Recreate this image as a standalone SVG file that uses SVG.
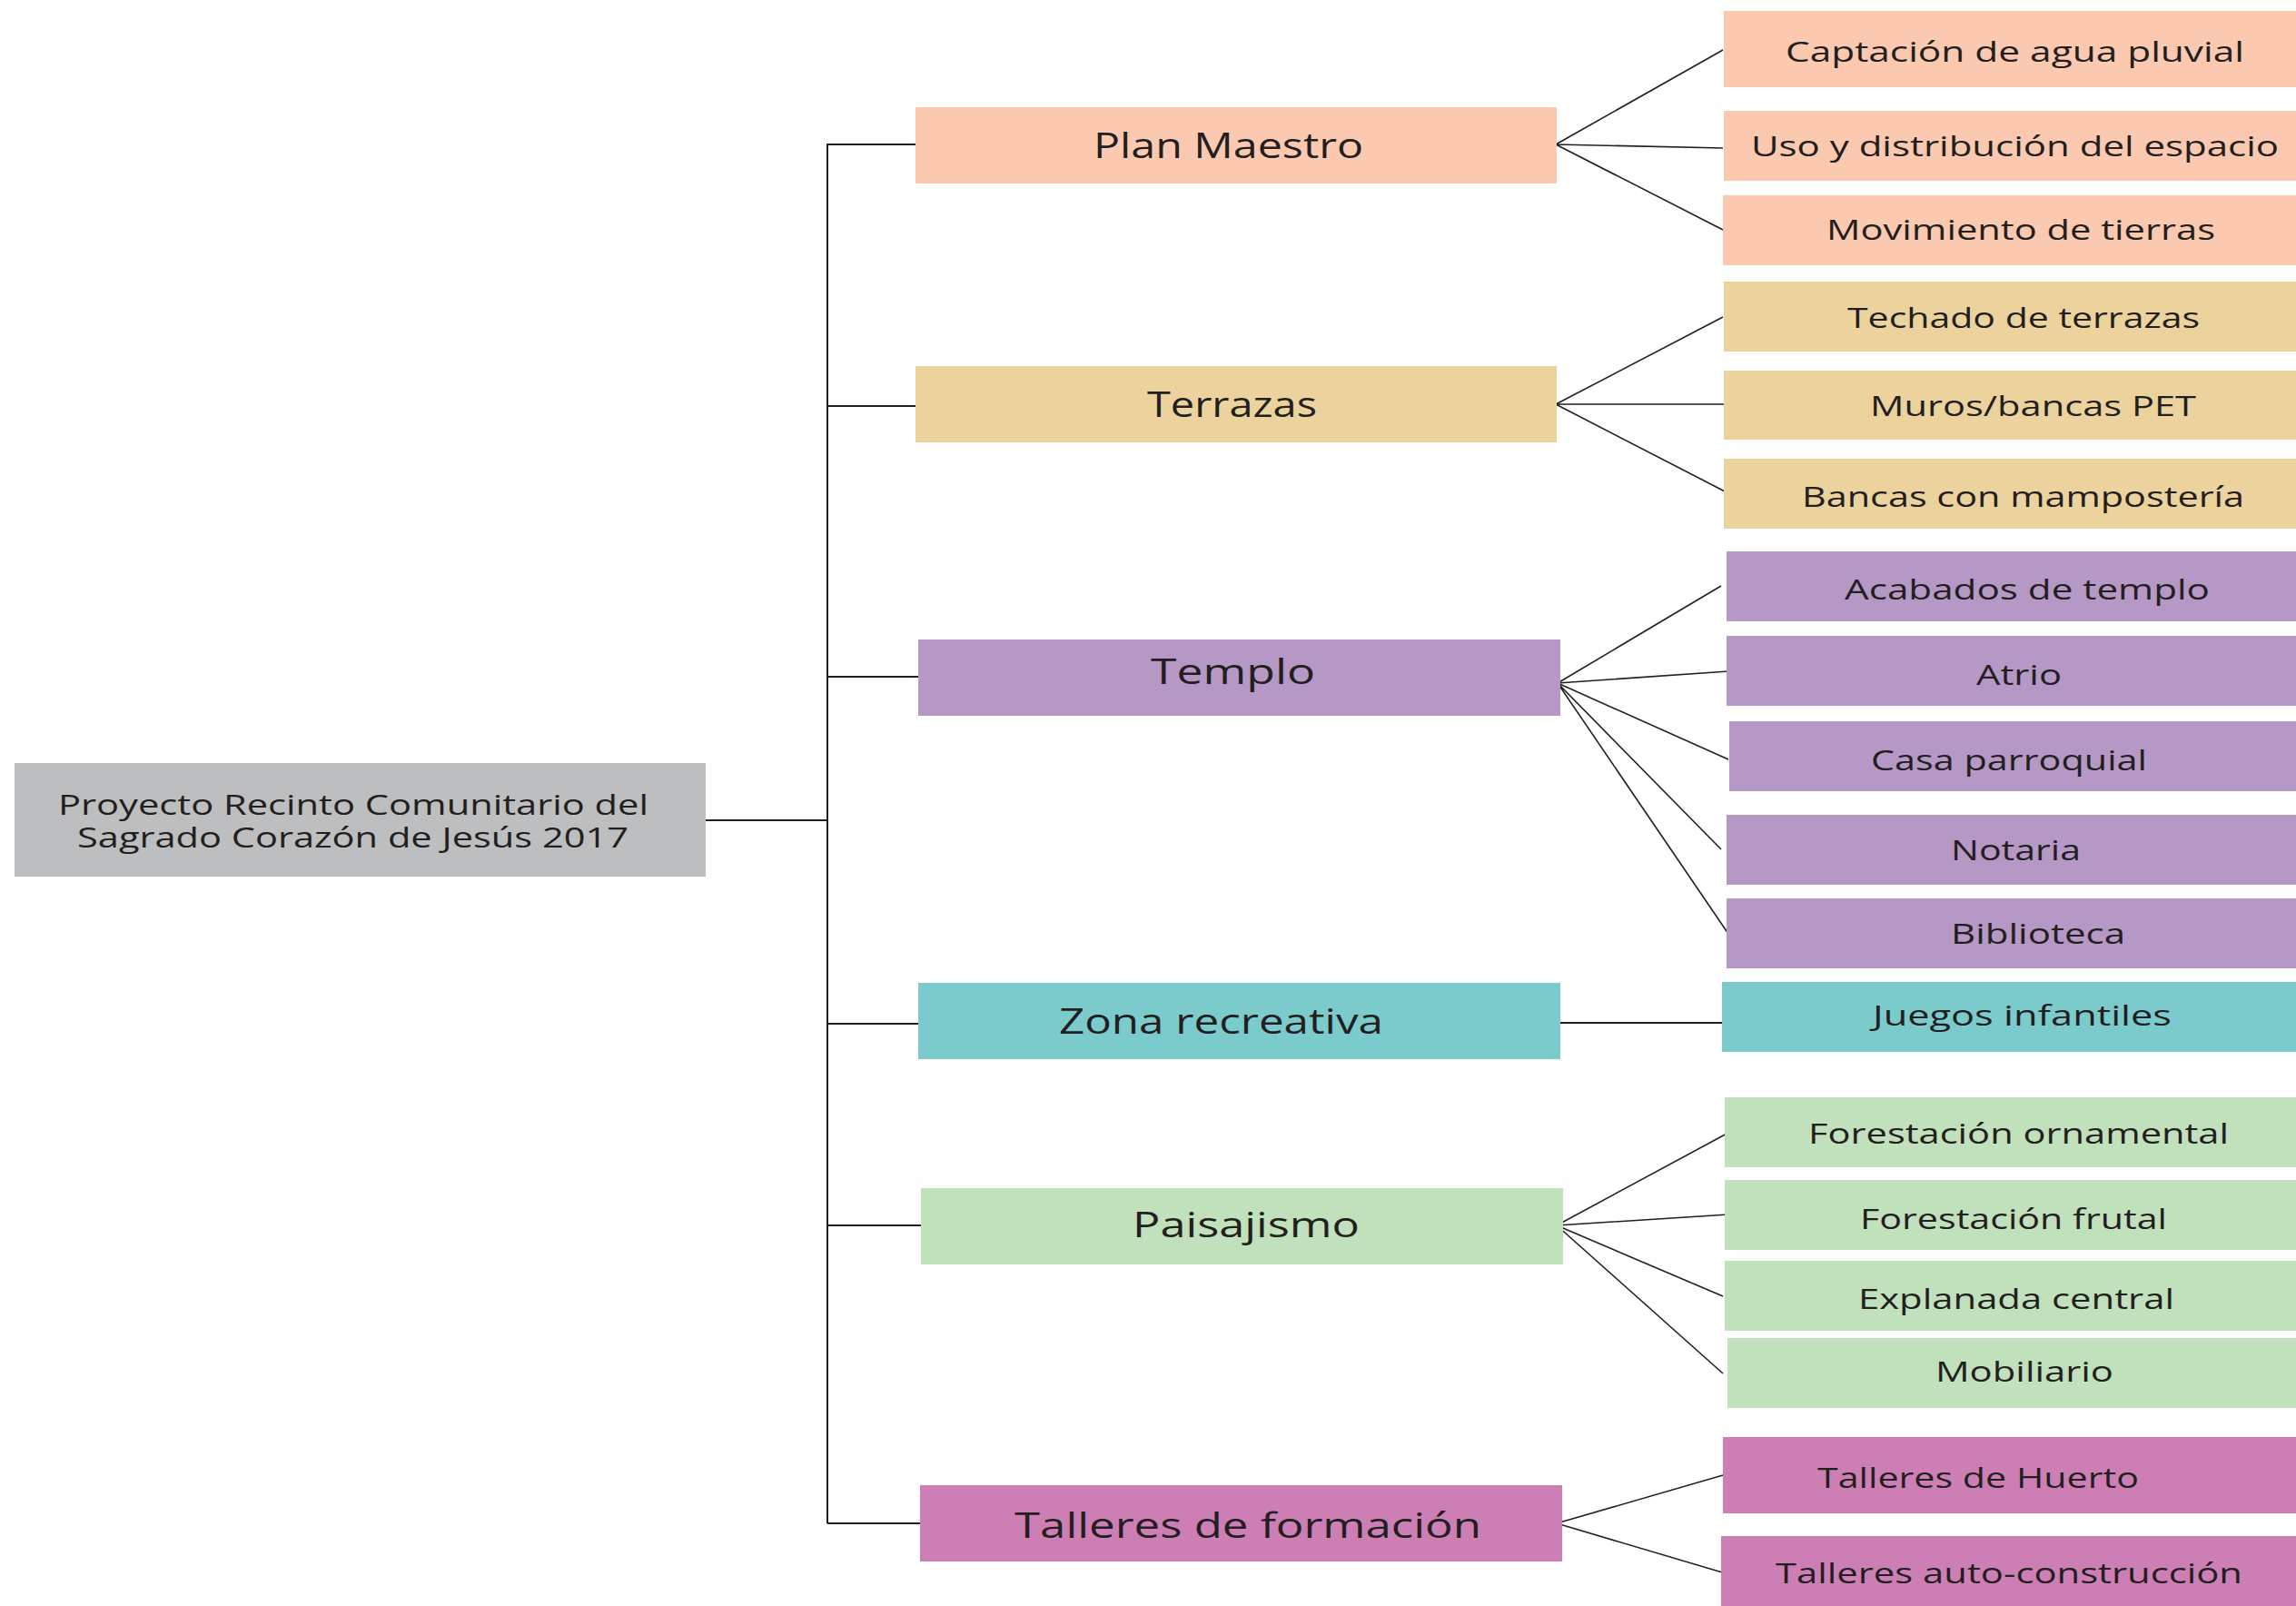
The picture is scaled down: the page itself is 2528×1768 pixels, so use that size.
<svg xmlns="http://www.w3.org/2000/svg" width="2528" height="1768" viewBox="0 0 2528 1768">
<style>
text{font-family:"Open Sans","Liberation Sans",sans-serif;fill:#231f20}
.t0{font-size:31px}
.t1{font-size:38px}
.t2{font-size:31px}
.root{fill:#bcbec0}
.pm{fill:#fbc9af}
.te{fill:#ecd39e}
.tp{fill:#b598c6}
.zr{fill:#7bcbcc}
.pa{fill:#c1e0bc}
.ta{fill:#cd7fb5}
.bus{stroke:#231f20;stroke-width:2;fill:none}
.fan{stroke:#231f20;stroke-width:1.6;fill:none}
</style>
<rect width="2528" height="1768" fill="#ffffff"/>
<g id="connectors">
<path class="bus" d="M777 903H911M911 158V1677M911 159H1008M911 447H1008M911 745H1011M911 1127H1011M911 1349H1014M911 1677H1013"/>
<path class="fan" d="M1713 159L1897 55M1713 159L1897 163M1713 159L1897 253"/>
<path class="fan" d="M1713 445L1897 349M1713 445L1903 445M1713 445L1903 543"/>
<path class="fan" d="M1715 752L1895 645M1715 752L1903 739M1715 752L1903 836M1715 752L1895 935M1715 752L1903 1028"/>
<path class="bus" d="M1718 1126H1896"/>
<path class="fan" d="M1714 1349L1903 1247M1714 1349L1903 1337M1714 1349L1897 1427M1714 1349L1897 1512"/>
<path class="fan" d="M1714 1677L1897 1624M1714 1677L1903 1733"/>
</g>
<g id="root"><rect class="root" x="16" y="840" width="761" height="125"/>
<text class="t0" x="64" y="897" textLength="650" lengthAdjust="spacingAndGlyphs">Proyecto Recinto Comunitario del</text>
<text class="t0" x="85" y="933" textLength="607" lengthAdjust="spacingAndGlyphs">Sagrado Corazón de Jesús 2017</text></g>
<g id="plan-maestro"><rect class="pm" x="1008" y="118" width="706" height="84"/><text class="t1" x="1204" y="174" textLength="297" lengthAdjust="spacingAndGlyphs">Plan Maestro</text></g>
<g id="terrazas"><rect class="te" x="1008" y="403" width="706" height="84"/><text class="t1" x="1263" y="459" textLength="187" lengthAdjust="spacingAndGlyphs">Terrazas</text></g>
<g id="templo"><rect class="tp" x="1011" y="704" width="707" height="84"/><text class="t1" x="1267" y="753" textLength="181" lengthAdjust="spacingAndGlyphs">Templo</text></g>
<g id="zona-recreativa"><rect class="zr" x="1011" y="1082" width="707" height="84"/><text class="t1" x="1166" y="1138" textLength="357" lengthAdjust="spacingAndGlyphs">Zona recreativa</text></g>
<g id="paisajismo"><rect class="pa" x="1014" y="1308" width="707" height="84"/><text class="t1" x="1247" y="1362" textLength="250" lengthAdjust="spacingAndGlyphs">Paisajismo</text></g>
<g id="talleres-formacion"><rect class="ta" x="1013" y="1635" width="707" height="84"/><text class="t1" x="1117" y="1693" textLength="514" lengthAdjust="spacingAndGlyphs">Talleres de formación</text></g>
<g id="captacion"><rect class="pm" x="1898" y="12" width="630" height="84"/><text class="t2" x="1966" y="68" textLength="505" lengthAdjust="spacingAndGlyphs">Captación de agua pluvial</text></g>
<g id="uso"><rect class="pm" x="1898" y="122" width="630" height="77"/><text class="t2" x="1928" y="172" textLength="581" lengthAdjust="spacingAndGlyphs">Uso y distribución del espacio</text></g>
<g id="movimiento"><rect class="pm" x="1897" y="215" width="631" height="77"/><text class="t2" x="2011" y="264" textLength="428" lengthAdjust="spacingAndGlyphs">Movimiento de tierras</text></g>
<g id="techado"><rect class="te" x="1898" y="310" width="630" height="77"/><text class="t2" x="2034" y="361" textLength="388" lengthAdjust="spacingAndGlyphs">Techado de terrazas</text></g>
<g id="muros"><rect class="te" x="1898" y="408" width="630" height="76"/><text class="t2" x="2059" y="458" textLength="359" lengthAdjust="spacingAndGlyphs">Muros/bancas PET</text></g>
<g id="bancas"><rect class="te" x="1898" y="505" width="630" height="77"/><text class="t2" x="1984" y="558" textLength="487" lengthAdjust="spacingAndGlyphs">Bancas con mampostería</text></g>
<g id="acabados"><rect class="tp" x="1901" y="607" width="627" height="77"/><text class="t2" x="2031" y="660" textLength="402" lengthAdjust="spacingAndGlyphs">Acabados de templo</text></g>
<g id="atrio"><rect class="tp" x="1901" y="700" width="627" height="77"/><text class="t2" x="2176" y="754" textLength="94" lengthAdjust="spacingAndGlyphs">Atrio</text></g>
<g id="casa"><rect class="tp" x="1904" y="794" width="624" height="77"/><text class="t2" x="2060" y="848" textLength="304" lengthAdjust="spacingAndGlyphs">Casa parroquial</text></g>
<g id="notaria"><rect class="tp" x="1901" y="897" width="627" height="77"/><text class="t2" x="2148" y="947" textLength="143" lengthAdjust="spacingAndGlyphs">Notaria</text></g>
<g id="biblioteca"><rect class="tp" x="1901" y="989" width="627" height="77"/><text class="t2" x="2148" y="1039" textLength="192" lengthAdjust="spacingAndGlyphs">Biblioteca</text></g>
<g id="juegos"><rect class="zr" x="1896" y="1081" width="632" height="77"/><text class="t2" x="2062" y="1129" textLength="329" lengthAdjust="spacingAndGlyphs">Juegos infantiles</text></g>
<g id="forestacion-ornamental"><rect class="pa" x="1899" y="1208" width="629" height="77"/><text class="t2" x="1991" y="1259" textLength="463" lengthAdjust="spacingAndGlyphs">Forestación ornamental</text></g>
<g id="forestacion-frutal"><rect class="pa" x="1899" y="1299" width="629" height="77"/><text class="t2" x="2048" y="1353" textLength="338" lengthAdjust="spacingAndGlyphs">Forestación frutal</text></g>
<g id="explanada"><rect class="pa" x="1899" y="1388" width="629" height="77"/><text class="t2" x="2046" y="1441" textLength="348" lengthAdjust="spacingAndGlyphs">Explanada central</text></g>
<g id="mobiliario"><rect class="pa" x="1902" y="1473" width="626" height="77"/><text class="t2" x="2131" y="1521" textLength="196" lengthAdjust="spacingAndGlyphs">Mobiliario</text></g>
<g id="huerto"><rect class="ta" x="1897" y="1582" width="631" height="84"/><text class="t2" x="2001" y="1638" textLength="354" lengthAdjust="spacingAndGlyphs">Talleres de Huerto</text></g>
<g id="autoconstruccion"><rect class="ta" x="1895" y="1691" width="633" height="77"/><text class="t2" x="1955" y="1743" textLength="514" lengthAdjust="spacingAndGlyphs">Talleres auto-construcción</text></g>
</svg>
